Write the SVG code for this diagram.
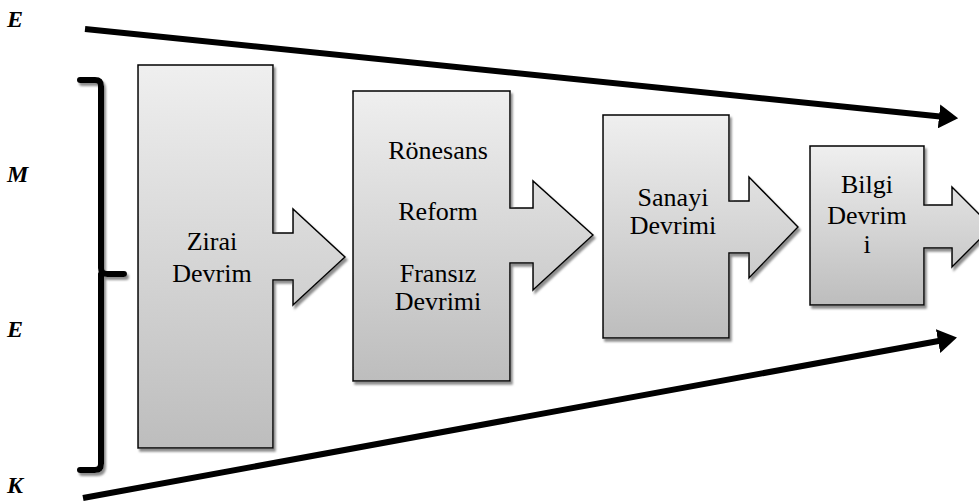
<svg xmlns="http://www.w3.org/2000/svg" width="979" height="502" viewBox="0 0 979 502">
<defs>
<linearGradient id="g" x1="0" y1="0" x2="0" y2="1">
<stop offset="0" stop-color="#efefef"/>
<stop offset="1" stop-color="#bdbdbd"/>
</linearGradient>
<filter id="sh" x="-10%" y="-10%" width="130%" height="130%">
<feDropShadow dx="2" dy="3" stdDeviation="0.8" flood-color="#808080" flood-opacity="0.9"/>
</filter>
<marker id="ah" markerWidth="4" markerHeight="4" refX="1" refY="2" orient="auto" markerUnits="strokeWidth" viewBox="0 0 4 4">
<path d="M0,0 L3.2,2 L0,4 Z" fill="#000"/>
</marker>
<style>
.box{fill:url(#g);stroke:#000;stroke-width:1.5;stroke-linejoin:miter;filter:url(#sh)}
.ln{stroke:#000;stroke-width:6;fill:none}
text{font-family:"Liberation Serif","Times New Roman",Times,serif}
</style>
</defs>
<g id="labels" font-size="24" font-weight="bold" font-style="italic" fill="#000">
<text x="7" y="27" style="font-family:'Liberation Serif',serif">E</text>
<text x="7" y="182" style="font-family:'Liberation Serif',serif">M</text>
<text x="7" y="337" style="font-family:'Liberation Serif',serif">E</text>
<text x="7" y="493" style="font-family:'Liberation Serif',serif">K</text>
</g>
<g id="connectors">
<line class="ln" x1="85" y1="29" x2="945" y2="117" marker-end="url(#ah)"/>
<line class="ln" x1="83" y1="498" x2="944" y2="340" marker-end="url(#ah)"/>
<path d="M80,80 H95 Q101,80 101,86 V268 Q101,274 107,274 H124 M101,274 V464 Q101,470 95,470 H80" fill="none" stroke="#000" stroke-width="6" stroke-linecap="round" filter="url(#sh)"/>
</g>
<g id="zirai" font-size="26" text-anchor="middle" fill="#000">
<polygon class="box" points="138,65 273,65 273,233 293,233 293,209 345,257 293,305 293,280 273,280 273,448 138,448"/>
<text x="212" y="250" style="font-family:'Liberation Serif',serif">Zirai</text>
<text x="212" y="282" style="font-family:'Liberation Serif',serif">Devrim</text>
</g>
<g id="ronesans" font-size="26" text-anchor="middle" fill="#000">
<polygon class="box" points="353,91 510,91 510,208 533,208 533,181 593,235 533,290 533,263 510,263 510,381 353,381"/>
<text x="438" y="159" style="font-family:'Liberation Serif',serif">Rönesans</text>
<text x="438" y="220" style="font-family:'Liberation Serif',serif">Reform</text>
<text x="438" y="282" style="font-family:'Liberation Serif',serif">Fransız</text>
<text x="438" y="310" style="font-family:'Liberation Serif',serif">Devrimi</text>
</g>
<g id="sanayi" font-size="26" text-anchor="middle" fill="#000">
<polygon class="box" points="603,115 729,115 729,201 749,201 749,177 798,227 749,278 749,253 729,253 729,338 603,338"/>
<text x="673" y="206" style="font-family:'Liberation Serif',serif">Sanayi</text>
<text x="673" y="234" style="font-family:'Liberation Serif',serif">Devrimi</text>
</g>
<g id="bilgi" font-size="26" text-anchor="middle" fill="#000">
<polygon class="box" points="810,146 924,146 924,205 952,205 952,187 992,227 952,267 952,248 924,248 924,305 810,305"/>
<text x="867" y="193" style="font-family:'Liberation Serif',serif">Bilgi</text>
<text x="867" y="224" style="font-family:'Liberation Serif',serif">Devrim</text>
<text x="867" y="253" style="font-family:'Liberation Serif',serif">i</text>
</g>
</svg>
